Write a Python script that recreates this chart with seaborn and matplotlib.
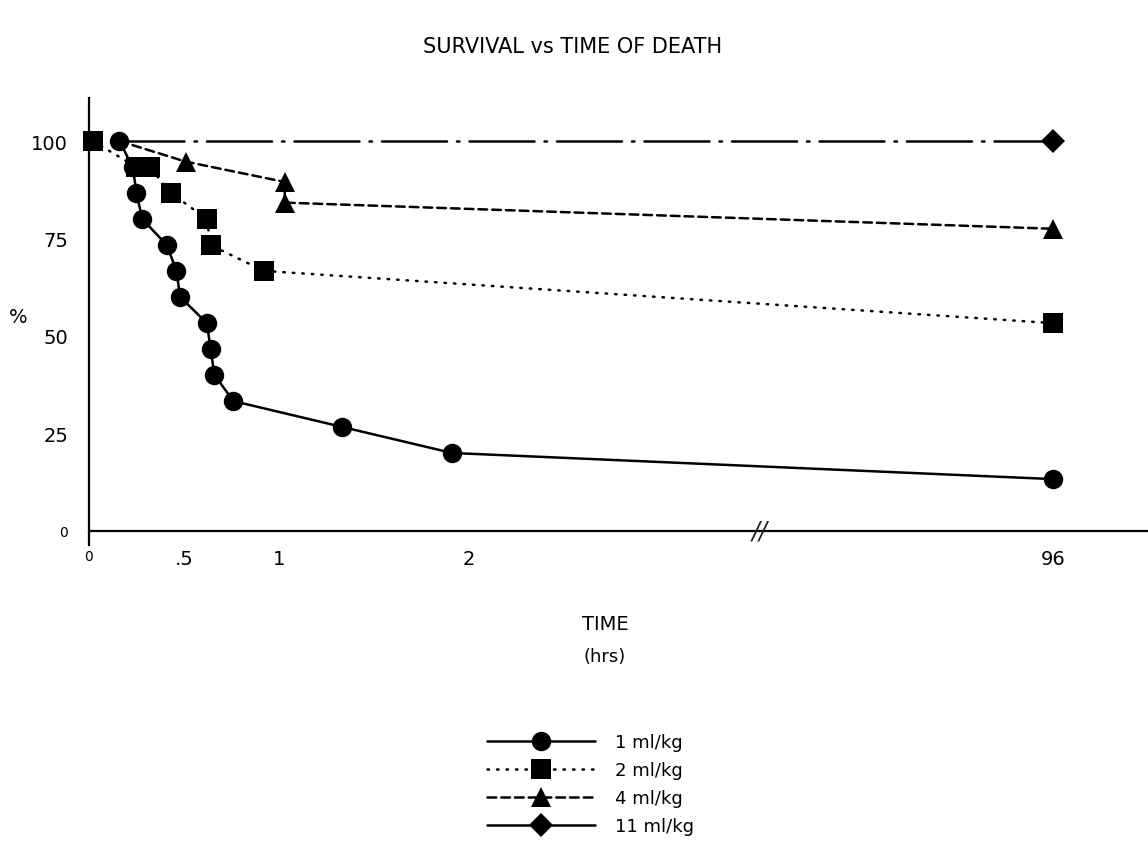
import numpy as np
import pandas as pd
import matplotlib.pyplot as plt
import seaborn as sns

# survival (%) against time of death (hrs)
t_1 = [0.16, 0.23, 0.25, 0.28, 0.41, 0.46, 0.48, 0.62, 0.64, 0.66, 0.76, 1.33, 1.91, 96]
s_1 = [100, 93.3, 86.7, 80, 73.3, 66.7, 60, 53.3, 46.7, 40, 33.3, 26.7, 20, 13.3]
t_2 = [0.02, 0.25, 0.32, 0.43, 0.62, 0.64, 0.92, 96]
s_2 = [100, 93.3, 93.3, 86.7, 80, 73.3, 66.7, 53.3]
t_4 = [0.16, 0.51, 1.03, 1.03, 96]
s_4 = [100, 94.7, 89.5, 84.2, 77.5]
t_11 = [0.16, 96]
s_11 = [100, 100]

x_ticks = [0, 0.5, 1, 2, 96]
x_labels = ['0', '.5', '1', '2', '96']
y_ticks = [0, 25, 50, 75, 100]
y_labels = ['0', '25', '50', '75', '100']

# broken time axis: linear up to 2 h, squeezed after that
K = 0.03267


def fwd(t):
    t = np.asarray(t, dtype=float)
    return np.where(t <= 2, t, 2 + (t - 2) * K)


def inv(u):
    u = np.asarray(u, dtype=float)
    return np.where(u <= 2, u, 2 + (u - 2) / K)


sns.set_theme(style='white')
plt.rcParams['font.family'] = ['DejaVu Sans']

fig = plt.figure(figsize=(11.48, 8.45), dpi=100)
ax = fig.add_axes([0.0775, 0.3543, 0.9225, 0.5284])
ax.set_xscale('function', functions=(fwd, inv))

series = [
    ('1 ml/kg', t_1, s_1, 'o', '-', 14),
    ('2 ml/kg', t_2, s_2, 's', (0, (0.6, 3.2)), 14),
    ('4 ml/kg', t_4, s_4, '^', (0, (3.5, 2)), 15),
    ('11 ml/kg', t_11, s_11, 'D', (0, (26, 4, 1, 4)), 12),
]

# draw circles last so they sit on top at 100 %
for name, t, s, mk, ls, ms in [series[3], series[2], series[1], series[0]]:
    df = pd.DataFrame({'time': t, 'surv': s})
    every = slice(1, None) if name in ('4 ml/kg', '11 ml/kg') else None
    sns.lineplot(data=df, x='time', y='surv', ax=ax, color='black', marker=mk,
                 markersize=ms, markeredgewidth=0, linestyle=ls, linewidth=1.8,
                 dash_capstyle='round', markevery=every, sort=False,
                 estimator=None, label=name, clip_on=False)

ax.set_xlim(0, 111.3)
ax.set_ylim(-3.5, 111)
ax.spines['bottom'].set_position(('data', 0))
ax.spines['top'].set_visible(False)
ax.spines['right'].set_visible(False)
for sp in ('left', 'bottom'):
    ax.spines[sp].set_color('black')
    ax.spines[sp].set_linewidth(1.6)

ax.set_xticks(x_ticks)
ax.set_xticklabels(x_labels)
ax.set_yticks(y_ticks)
ax.set_yticklabels(y_labels)
ax.set_yticks([0], minor=True)
ax.tick_params(axis='x', which='major', length=0, pad=13, labelsize=14, labelcolor='black')
ax.tick_params(axis='y', which='major', length=0, pad=15, labelsize=14, labelcolor='black')
ax.tick_params(axis='y', which='minor', length=12, width=1.6, direction='inout')
ax.get_xticklabels()[0].set_fontsize(10)
ax.get_yticklabels()[0].set_fontsize(10)
ax.set_xlabel('')
ax.set_ylabel('%', rotation=0, fontsize=14, color='black')
ax.yaxis.set_label_coords(-0.067, 0.49)

# axis break mark
ax.text(48.8, 0, '//', ha='center', va='center', fontsize=17, style='italic')

fig.text(0.499, 1 - 47 / 845, 'SURVIVAL vs TIME OF DEATH', ha='center', va='center',
         fontsize=15, color='black')
fig.text(0.527, 1 - 625 / 845, 'TIME', ha='center', va='center', fontsize=14, color='black')
fig.text(0.527, 1 - 657 / 845, '(hrs)', ha='center', va='center', fontsize=13, color='black')

handles, labels = ax.get_legend_handles_labels()
order = [labels.index(n) for n in ('1 ml/kg', '2 ml/kg', '4 ml/kg', '11 ml/kg')]
leg = ax.legend([handles[i] for i in order], [labels[i] for i in order],
                loc='upper left', bbox_to_anchor=(487 / 1148, 1 - 734 / 845),
                bbox_transform=fig.transFigure, frameon=False, fontsize=13,
                handlelength=6.0, handletextpad=1.1, labelspacing=0.56,
                borderpad=0, borderaxespad=0, numpoints=1)
leg.get_lines()[3].set_linestyle('-')
for txt in leg.get_texts():
    txt.set_color('black')

fig.savefig('out.png', dpi=100)
